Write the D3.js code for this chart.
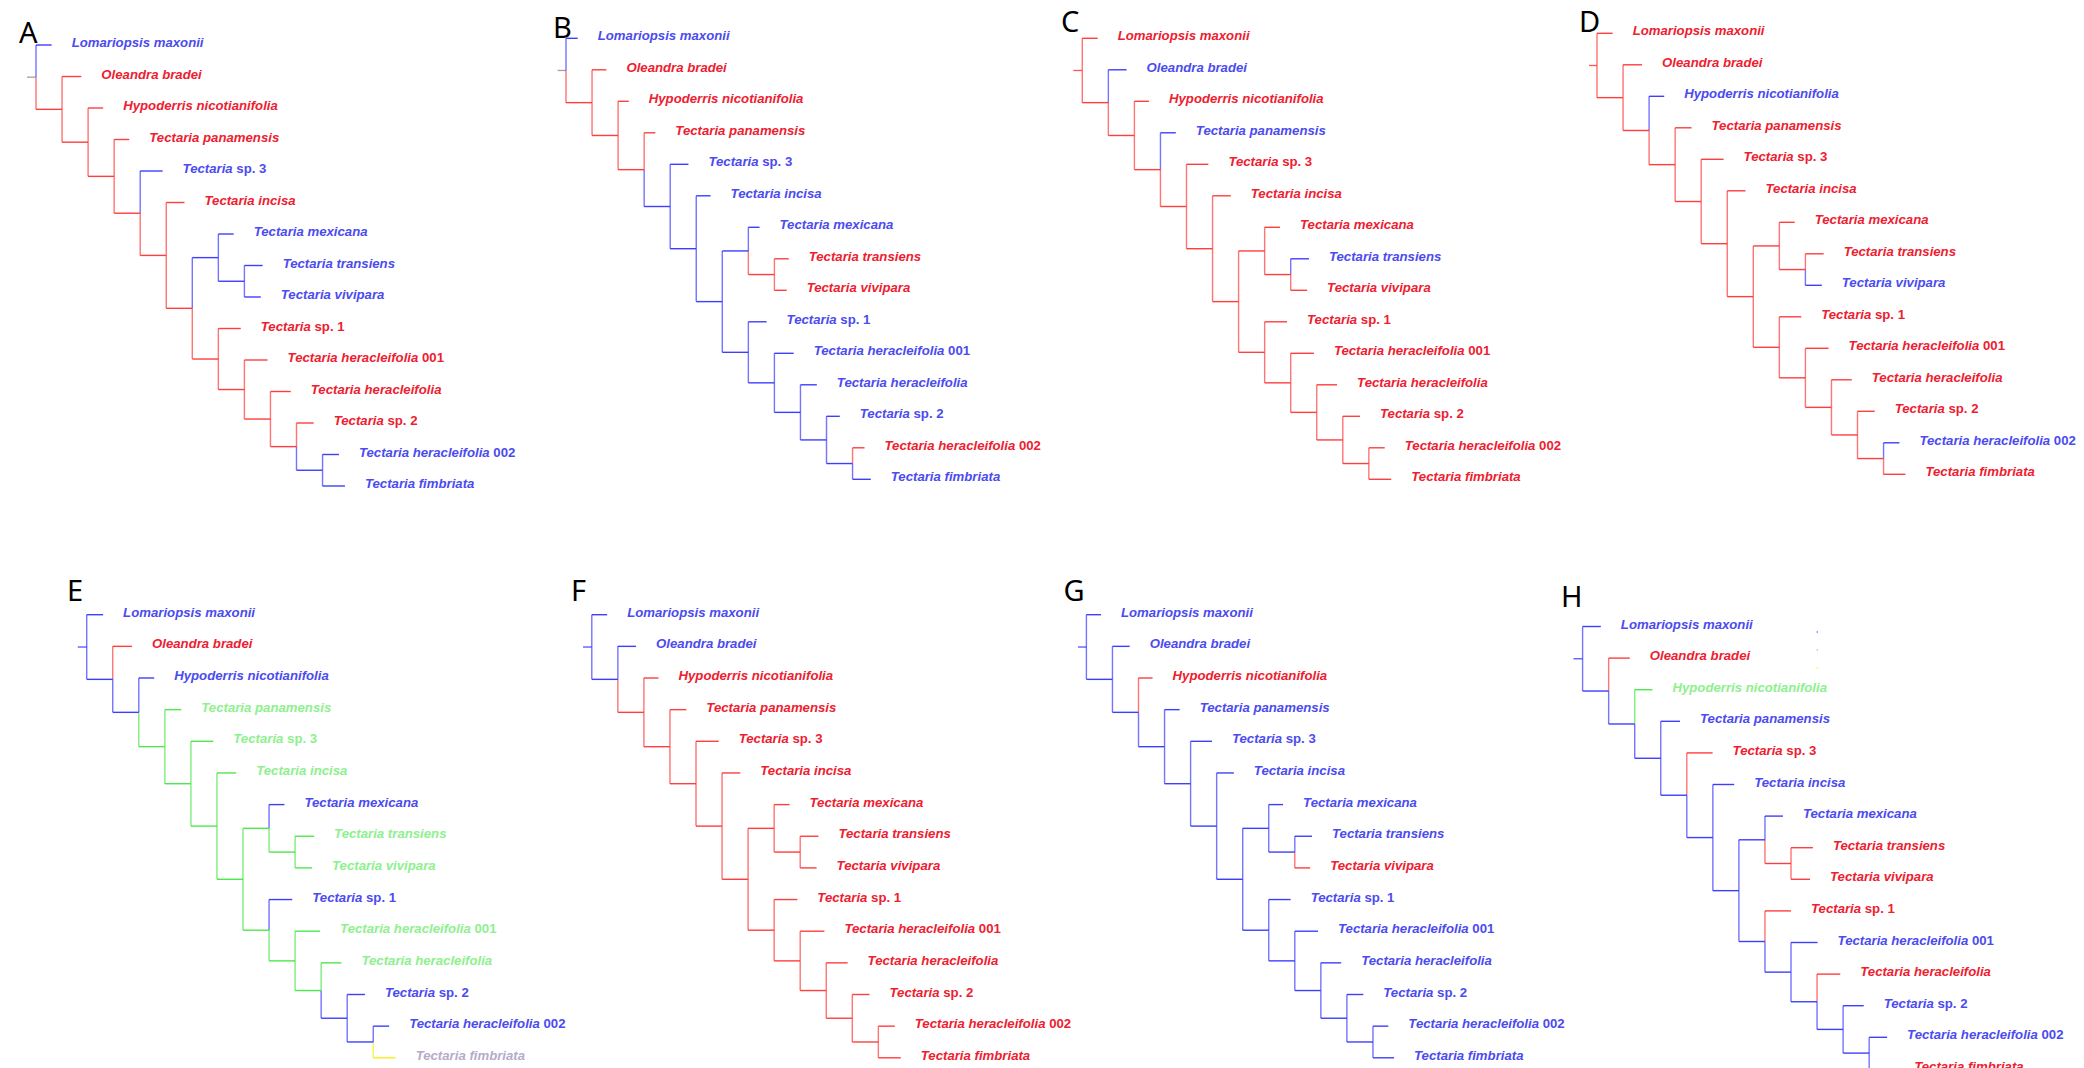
<!DOCTYPE html>
<html>
<head>
<meta charset="utf-8">
<script src="https://cdn.jsdelivr.net/npm/d3@7"></script>
<style>
body { margin: 0; background: #fff; }
svg { display: block; }
.taxon { font-family: "Liberation Sans", Arial, sans-serif; font-size: 13.2px; font-weight: bold; }
.panelLetter { font-family: "Noto Sans", "Open Sans", sans-serif; font-size: 29px; fill: #000; }
</style>
</head>
<body>
<svg id="chart" width="2084" height="1068"></svg>
<script>
// tree: 15 tips first, then internal nodes (order sets the drawing order of the tips)
var nodeIds = ["Lom", "Ole", "Hyp", "pan", "sp3", "inc", "mex", "tra", "viv", "sp1", "h001", "her", "sp2", "h002", "fim",
               "N1", "N2", "N3", "N4", "N5", "N6", "M1", "TV", "S1", "H1", "H2", "H3", "H4"];
var nodeParent = ["root", "N1", "N2", "N3", "N4", "N5", "M1", "TV", "TV", "S1", "H1", "H2", "H3", "H4", "H4",
                  "root", "N1", "N2", "N3", "N4", "N5", "N6", "M1", "N6", "S1", "H1", "H2", "H3"];

var labelItalic = ["Lomariopsis maxonii", "Oleandra bradei", "Hypoderris nicotianifolia", "Tectaria panamensis",
                   "Tectaria", "Tectaria incisa", "Tectaria mexicana", "Tectaria transiens", "Tectaria vivipara",
                   "Tectaria", "Tectaria heracleifolia", "Tectaria heracleifolia", "Tectaria",
                   "Tectaria heracleifolia", "Tectaria fimbriata"];
var labelRoman = ["", "", "", "", " sp. 3", "", "", "", "", " sp. 1", " 001", "", " sp. 2", " 002", ""];

var panelNames = ["A", "B", "C", "D", "E", "F", "G", "H"];

// terminal branch lengths (in units of one internal step), one row per panel
var tipLengths = [
    [0.60, 0.74, 0.58, 0.58, 0.86, 0.70, 0.59, 0.70, 0.63, 0.86, 0.89, 0.78, 0.66, 0.63, 0.86],
    [0.45, 0.55, 0.41, 0.43, 0.70, 0.55, 0.43, 0.55, 0.47, 0.70, 0.74, 0.63, 0.51, 0.46, 0.70],
    [0.59, 0.70, 0.56, 0.59, 0.84, 0.70, 0.59, 0.70, 0.63, 0.86, 0.89, 0.78, 0.66, 0.61, 0.86],
    [0.60, 0.73, 0.58, 0.63, 0.86, 0.70, 0.59, 0.70, 0.63, 0.84, 0.89, 0.78, 0.66, 0.61, 0.84],
    [0.63, 0.74, 0.59, 0.63, 0.86, 0.74, 0.59, 0.73, 0.65, 0.89, 0.96, 0.78, 0.68, 0.61, 0.86],
    [0.59, 0.70, 0.56, 0.63, 0.87, 0.70, 0.59, 0.70, 0.63, 0.89, 0.93, 0.82, 0.66, 0.63, 0.86],
    [0.56, 0.66, 0.54, 0.58, 0.82, 0.66, 0.55, 0.66, 0.59, 0.84, 0.89, 0.78, 0.63, 0.59, 0.81],
    [0.70, 0.81, 0.68, 0.74, 0.99, 0.82, 0.69, 0.84, 0.73, 1.00, 1.02, 0.89, 0.79, 0.69, 0.96]
];

// branch colour codes, same order as nodeIds
var edgeColors = [
    "b r r r b r b b b r r r r b b  r r r r r r b b r r r r b",
    "b r r r b b b r r b b b b r b  r r r b b b b r b b b b b",
    "r b r b r r r b r r r r r r r  r r r r r r r r r r r r r",
    "r r b r r r r r b r r r r b r  r r r r r r r r r r r r r",
    "b r b g g g b g g b g g b b y  b b g g g g g g g g g b b",
    "b b r r r r r r r r r r r r r  b r r r r r r r r r r r r",
    "b b r b b b b b r b b b b b b  b b b b b b b b b b b b b",
    "b r g b r b b r r r b r b b b  b b b b b b b r b b b b b"
];
var labelColors = [
    "b r r r b r b b b r r r r b b",
    "b r r r b b b r r b b b b r b",
    "r b r b r r r b r r r r r r r",
    "r r b r r r r r b r r r r b r",
    "b r b g g g b g g b g g b b l",
    "b b r r r r r r r r r r r r r",
    "b b r b b b b b r b b b b b b",
    "b r g b r b b r r r b r b b r"
];
var stubColors = ["k", "k", "r", "r", "b", "b", "b", "b"];
var legendDots = ["b", "g", "y"];

var lineColor = {r: "#ff2a2a", b: "#2a2aff", g: "#3ae63a", y: "#f0f000", k: "#8a8a8a"};
var textColor = {r: "#ee2030", b: "#4b4bef", g: "#8ef08e", l: "#b6aacb"};

// where each panel sits
var panelBox = [
    {rootX: 36,     topY: 45,    stepY: 31.5,  stubX: 27,     letterX: 19,     letterY: 43},
    {rootX: 566,    topY: 38.3,  stepY: 31.5,  stubX: 557.7,  letterX: 553,    letterY: 37.7},
    {rootX: 1082.3, topY: 38.3,  stepY: 31.5,  stubX: 1073.3, letterX: 1061,   letterY: 32},
    {rootX: 1597,   topY: 33.3,  stepY: 31.5,  stubX: 1589,   letterX: 1579,   letterY: 31.7},
    {rootX: 86.7,   topY: 614.7, stepY: 31.65, stubX: 77.8,   letterX: 67,     letterY: 600.5},
    {rootX: 591.8,  topY: 614.7, stepY: 31.65, stubX: 583,    letterX: 571,    letterY: 600.5},
    {rootX: 1086.4, topY: 614.7, stepY: 31.65, stubX: 1078,   letterX: 1063.5, letterY: 600.5},
    {rootX: 1582.6, topY: 626.5, stepY: 31.6,  stubX: 1573.5, letterX: 1561,   letterY: 607}
];
var stepX = 26.05;

var svg = d3.select("#chart");

var rows = [{id: "root", parent: ""}];
for (var i = 0; i < nodeIds.length; i++) {
    rows.push({id: nodeIds[i], parent: nodeParent[i], idx: i});
}
var stratify = d3.stratify().id(function(d) { return d.id; }).parentId(function(d) { return d.parent; });

function drawPanel(p) {
    var box = panelBox[p];
    var eCol = edgeColors[p].split(/\s+/);
    var lCol = labelColors[p].split(/\s+/);
    var root = stratify(rows);

    root.leaves().forEach(function(l, i) { l.row = i; });
    root.eachAfter(function(n) {
        if (n.children) {
            n.row = d3.mean(n.children, function(c) { return c.row; });
            n.pos = n.depth;
        } else {
            n.pos = n.parent.depth + tipLengths[p][n.data.idx];
        }
    });

    var x = d3.scaleLinear().domain([0, 1]).range([box.rootX, box.rootX + stepX]);
    var y = d3.scaleLinear().domain([0, 14]).range([box.topY, box.topY + 14 * box.stepY]);

    var g = svg.append("g").attr("class", "panel");

    g.append("text").attr("class", "panelLetter")
        .attr("x", box.letterX).attr("y", box.letterY)
        .text(panelNames[p]);

    g.append("line")
        .attr("x1", box.stubX).attr("x2", x(0))
        .attr("y1", y(root.row)).attr("y2", y(root.row))
        .attr("stroke", lineColor[stubColors[p]]).attr("stroke-width", 1.3).attr("opacity", 0.8);

    var edges = root.descendants().filter(function(n) { return n.parent; });
    // vertical part, drawn paler like the original
    g.selectAll("line.v").data(edges).enter().append("line").attr("class", "v")
        .attr("x1", function(n) { return x(n.parent.pos); })
        .attr("x2", function(n) { return x(n.parent.pos); })
        .attr("y1", function(n) { return y(n.parent.row); })
        .attr("y2", function(n) { return y(n.row); })
        .attr("stroke", function(n) { return lineColor[eCol[n.data.idx]]; })
        .attr("stroke-width", 1.4).attr("opacity", 0.65);
    g.selectAll("line.h").data(edges).enter().append("line").attr("class", "h")
        .attr("x1", function(n) { return x(n.parent.pos); })
        .attr("x2", function(n) { return x(n.pos); })
        .attr("y1", function(n) { return y(n.row); })
        .attr("y2", function(n) { return y(n.row); })
        .attr("stroke", function(n) { return lineColor[eCol[n.data.idx]]; })
        .attr("stroke-width", 1.4).attr("opacity", 0.9);

    var labels = g.selectAll("text.taxon").data(root.leaves()).enter().append("text")
        .attr("class", "taxon")
        .attr("x", function(n) { return x(n.pos) + 20; })
        .attr("y", function(n) { return y(n.row) + 2; })
        .attr("fill", function(n) { return textColor[lCol[n.data.idx]]; });
    labels.append("tspan").attr("font-style", "italic")
        .text(function(n) { return labelItalic[n.data.idx]; });
    labels.append("tspan")
        .text(function(n) { return labelRoman[n.data.idx]; });
}

for (var p = 0; p < panelNames.length; p++) drawPanel(p);

// the three stray legend dots in panel H
var dotY = d3.scalePoint().domain(legendDots).range([632, 668]);
svg.selectAll("rect.dot").data(legendDots).enter().append("rect").attr("class", "dot")
    .attr("x", 1816.5).attr("y", function(d) { return dotY(d) - 0.75; })
    .attr("width", 1.5).attr("height", 1.5)
    .attr("fill", function(d) { return lineColor[d]; }).attr("opacity", 0.6);
</script>
</body>
</html>
